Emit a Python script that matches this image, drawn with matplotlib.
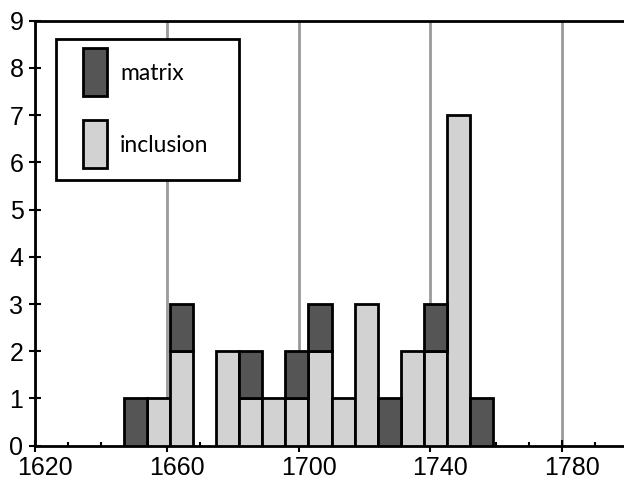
import numpy as np
import matplotlib
matplotlib.use("Agg")
import matplotlib.pyplot as plt
import matplotlib.transforms as mtransforms
from matplotlib.patches import Rectangle
from matplotlib.ticker import FixedLocator, MultipleLocator

# histogram bins (width 7) and counts
bin_start = 1647
bin_width = 7
inclusion = [0, 1, 2, 0, 2, 1, 1, 1, 2, 1, 3, 0, 2, 2, 7, 0]
matrix = [1, 0, 1, 0, 0, 1, 0, 1, 1, 0, 0, 1, 0, 1, 0, 1]
series_labels = ['matrix', 'inclusion']
x_ticks = [1620, 1660, 1700, 1740, 1780]

dark = '#555555'
light = '#d2d2d2'

edges = bin_start + bin_width * np.arange(len(inclusion))
inclusion = np.array(inclusion)
matrix = np.array(matrix)

plt.rcParams['font.family'] = ['Liberation Sans', 'DejaVu Sans']

fig = plt.figure(figsize=(6.24, 4.82), dpi=100)
W, H = 624, 482
ax = fig.add_axes([35 / W, (H - 445.7) / H, (628 - 35) / W, 425 / H])

m = inclusion > 0
ax.bar(edges[m], inclusion[m], width=bin_width, align='edge', color=light,
       edgecolor='black', linewidth=2, zorder=3)
m = matrix > 0
ax.bar(edges[m], matrix[m], bottom=inclusion[m], width=bin_width, align='edge',
       color=dark, edgecolor='black', linewidth=2, zorder=3)

ax.set_xlim(1620, 1800)
ax.set_ylim(0, 9)
ax.xaxis.set_major_locator(FixedLocator(x_ticks))
ax.xaxis.set_minor_locator(MultipleLocator(10))
ax.yaxis.set_major_locator(MultipleLocator(1))
ax.xaxis.grid(True, which='major', color='#9a9a9a', linewidth=2, zorder=1)
ax.set_axisbelow(True)

for s in ['left', 'bottom', 'top']:
    ax.spines[s].set_linewidth(2)
ax.spines['right'].set_visible(False)

ax.tick_params(axis='both', which='major', direction='inout', length=8.6,
               width=1.5, labelsize=18, pad=4)
ax.tick_params(axis='x', which='minor', direction='in', length=3, width=1.5)
ax.tick_params(axis='x', which='major', pad=3)

# x labels sit a little right of their ticks in the original
shift = mtransforms.ScaledTranslation(10 / 100, 0, fig.dpi_scale_trans)
for lab in ax.get_xticklabels():
    lab.set_transform(lab.get_transform() + shift)

# legend box drawn in figure pixels
def fx(px):
    return px / W

def fy(py):
    return (H - py) / H

fig.patches.append(Rectangle((fx(56), fy(180)), fx(239) - fx(56), fy(39) - fy(180),
                             transform=fig.transFigure, facecolor='white',
                             edgecolor='black', linewidth=2, zorder=5))
for color, label, top in [(dark, series_labels[0], 48), (light, series_labels[1], 120)]:
    fig.patches.append(Rectangle((fx(83), fy(top + 48)), fx(107) - fx(83), fy(top) - fy(top + 48),
                                 transform=fig.transFigure, facecolor=color,
                                 edgecolor='black', linewidth=2, zorder=6))
    fig.text(fx(120), fy(top + 25), label, fontsize=16.5, family=['Lato', 'DejaVu Sans'],
             va='center', ha='left', zorder=7)

fig.savefig('out.png', dpi=100)
